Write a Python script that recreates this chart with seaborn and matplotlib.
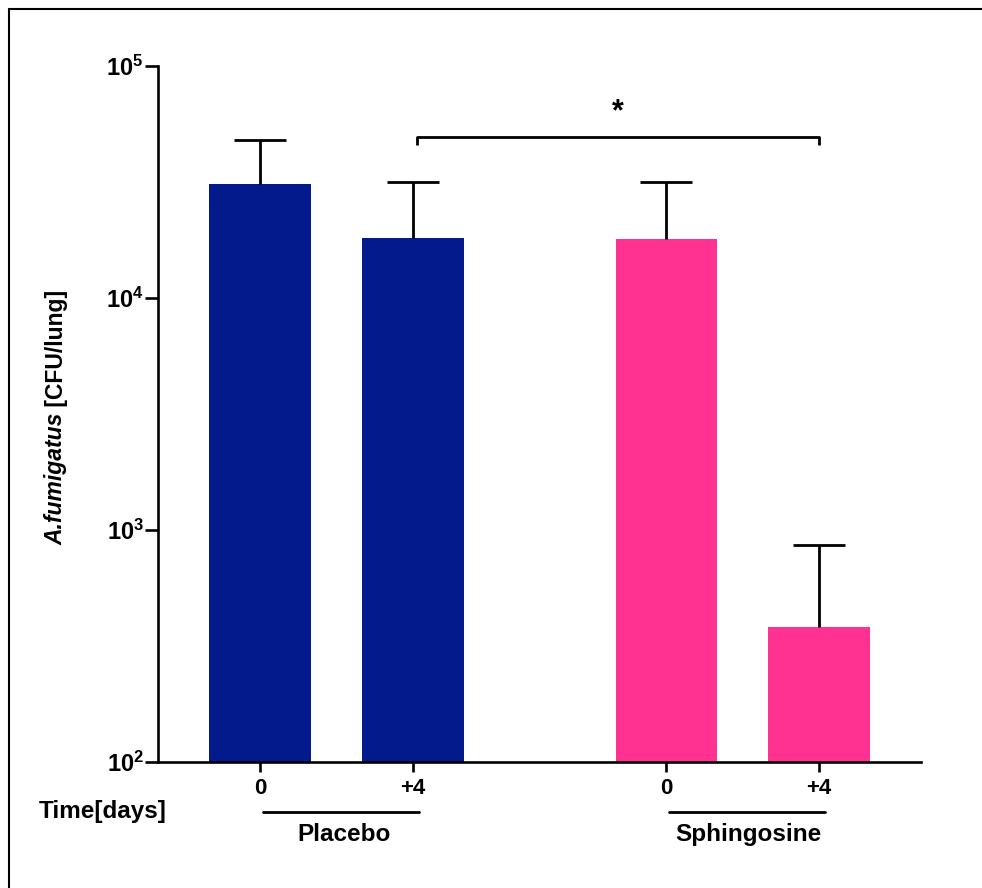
import numpy as np
import pandas as pd
import matplotlib
matplotlib.use("Agg")
import matplotlib.pyplot as plt
import matplotlib.transforms as mtransforms
from matplotlib.lines import Line2D
from matplotlib.ticker import NullLocator
import seaborn as sns

# ---- data ----
groups = ["Placebo", "Placebo", "Sphingosine", "Sphingosine"]
days = ["0", "+4", "0", "+4"]
positions = [0.0, 1.0, 2.66, 3.66]
cfu_mean = [30800, 18100, 17900, 382]
cfu_upper = [47800, 31600, 31400, 861]
ytick_vals = [1e2, 1e3, 1e4, 1e5]
ytick_labels = [r"$\mathrm{10^{2}}$", r"$\mathrm{10^{3}}$", r"$\mathrm{10^{4}}$", r"$\mathrm{10^{5}}$"]
group_names = ["Placebo", "Sphingosine"]
palette = {"Placebo": "#021A8C", "Sphingosine": "#FF3291"}

df = pd.DataFrame({"group": groups, "day": days, "pos": positions, "cfu": cfu_mean})

sns.set_theme(style="ticks")
plt.rcParams["font.family"] = ["Liberation Sans", "DejaVu Sans"]
plt.rcParams["font.weight"] = "bold"
plt.rcParams["text.color"] = "black"
plt.rcParams["mathtext.fontset"] = "custom"
plt.rcParams["mathtext.rm"] = "Liberation Sans:bold"
plt.rcParams["mathtext.bf"] = "Liberation Sans:bold"
plt.rcParams["mathtext.it"] = "Liberation Sans:italic:bold"

fig = plt.figure(figsize=(9.82, 8.88), dpi=100)
ax = fig.add_axes([158.3 / 982, 1 - 761.7 / 888, (920.7 - 158.3) / 982, (761.7 - 65.7) / 888])
ax.set_yscale("log")

sns.barplot(data=df, x="pos", y="cfu", hue="group", palette=palette, native_scale=True,
            dodge=False, errorbar=None, width=0.666, saturation=1, legend=False,
            linewidth=0, ax=ax)

err_up = np.array(cfu_upper) - np.array(cfu_mean)
eb = ax.errorbar(positions, cfu_mean, yerr=[np.zeros(len(cfu_mean)), err_up], fmt="none",
                 ecolor="black", elinewidth=2.0, capsize=19, capthick=2.0, zorder=3)
eb[1][0].set_visible(False)

ax.set_ylim(1e2, 1e5)
ax.set_xlim(-0.667, 4.325)
ax.set_yticks(ytick_vals, ytick_labels)
ax.yaxis.set_minor_locator(NullLocator())
ax.set_xticks(positions, days)
ax.set_xlabel("")
ax.set_ylabel("")

for s in ["top", "right"]:
    ax.spines[s].set_visible(False)
for s in ["left", "bottom"]:
    ax.spines[s].set_linewidth(1.9)
    ax.spines[s].set_color("black")

ax.tick_params(axis="y", length=9.5, width=1.9, labelsize=17, pad=1, colors="black")
ax.tick_params(axis="x", length=7.5, width=1.9, labelsize=16, pad=4, colors="black")
for lab in ax.get_xticklabels() + ax.get_yticklabels():
    lab.set_fontweight("bold")

# y label: italic species name followed by upright unit, both bold
ylab_x = 62.5 / 982
ylab_y0 = 1 - 545 / 888
t1 = fig.text(ylab_x, ylab_y0, "A.fumigatus", rotation=90, rotation_mode="anchor",
              ha="left", va="baseline", fontsize=16.5, fontweight="bold", fontstyle="italic")
fig.canvas.draw()
bb = t1.get_window_extent(renderer=fig.canvas.get_renderer())
fig.text(ylab_x, bb.y1 / fig.bbox.height, " [CFU/lung]", rotation=90, rotation_mode="anchor",
         ha="left", va="baseline", fontsize=16.5, fontweight="bold")

# group annotations under axis
trans = mtransforms.blended_transform_factory(ax.transData, ax.transAxes)
y_line = (761.7 - 812) / (761.7 - 65.7)
y_text = (761.7 - 834) / (761.7 - 65.7)
for g in group_names:
    p = [pp for pp, gg in zip(positions, groups) if gg == g]
    ax.add_line(Line2D([p[0] + 0.02, p[-1] + 0.04], [y_line, y_line], transform=trans,
                       color="black", lw=2.0, clip_on=False))
    ax.text((p[0] + p[-1]) / 2 + (0.04 if g == "Sphingosine" else 0.05),
            y_text, g, transform=trans, ha="center", va="center", fontsize=17.5,
            fontweight="bold")
fig.text(103 / 982, 1 - 811 / 888, "Time[days]", ha="center", va="center",
         fontsize=17.5, fontweight="bold")

# significance bracket
bx0, bx1 = 1.025, 3.66
by, bdrop = 49300, 45500
ax.plot([bx0, bx0, bx1, bx1], [bdrop, by, by, bdrop], color="black", lw=2.0,
        clip_on=False, solid_capstyle="butt")
ax.text((bx0 + bx1) / 2, 62700, "*", ha="center", va="center", fontsize=22,
        fontweight="bold")

# outer frame (top and left only, as in the cropped reference)
fig.add_artist(Line2D([9 / 982, 1], [1 - 9 / 888, 1 - 9 / 888], transform=fig.transFigure,
                      color="black", lw=1.5))
fig.add_artist(Line2D([9 / 982, 9 / 982], [0, 1 - 9 / 888], transform=fig.transFigure,
                      color="black", lw=1.5))

fig.savefig("out.png", dpi=100)
